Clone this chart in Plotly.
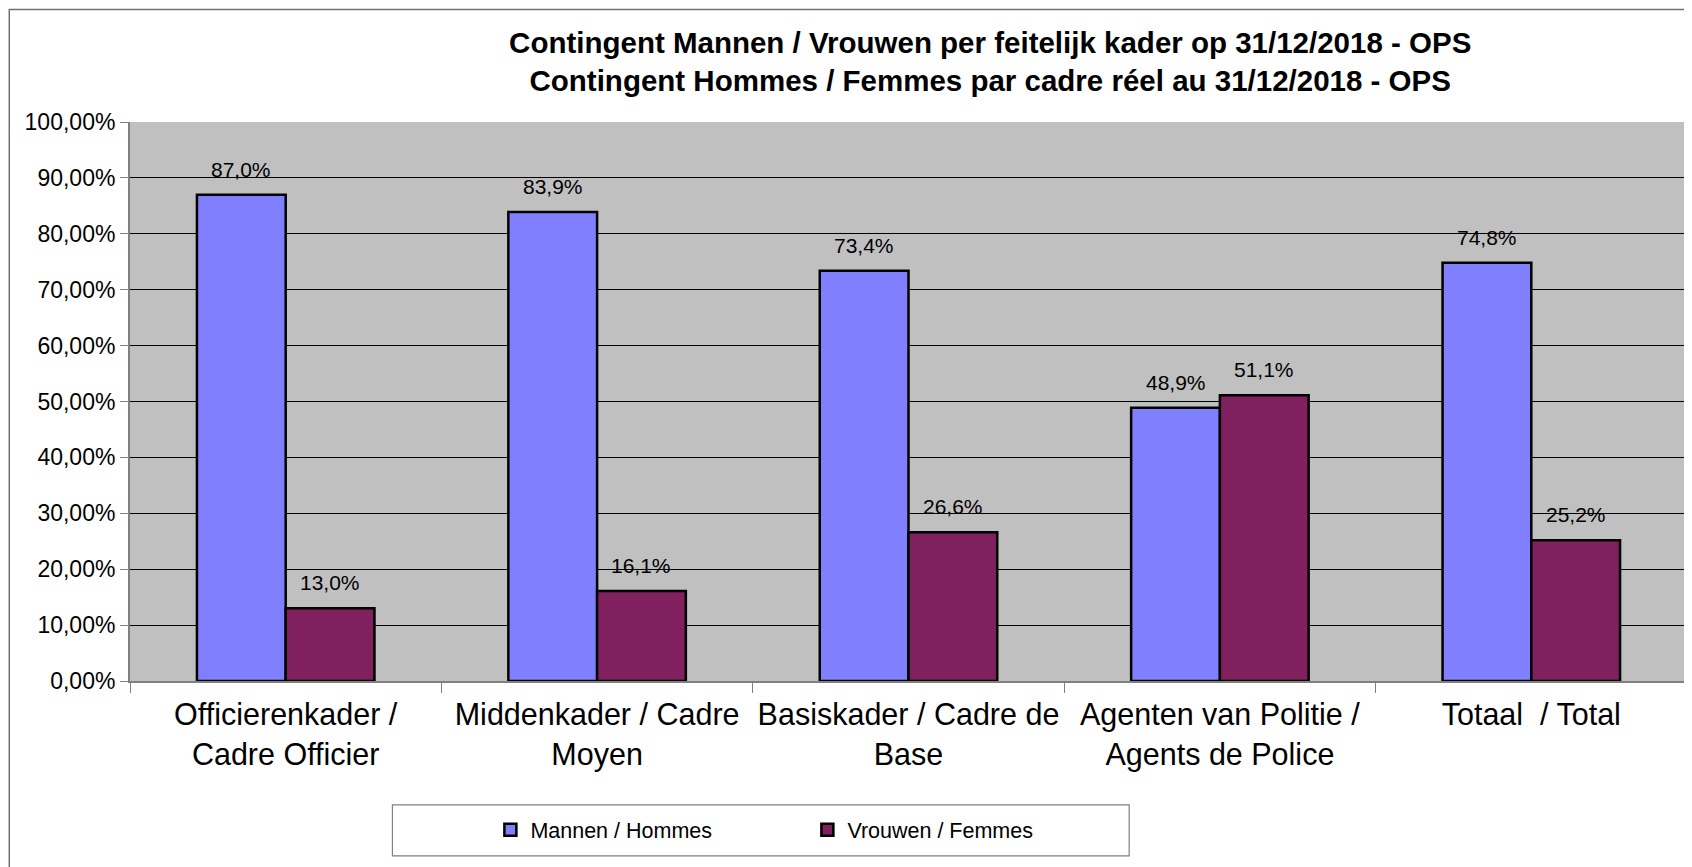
import plotly.graph_objects as go

categories = [
    "Officierenkader /<br>Cadre Officier",
    "Middenkader / Cadre<br>Moyen",
    "Basiskader / Cadre de<br>Base",
    "Agenten van Politie /<br>Agents de Police",
    "Totaal\u00a0 / Total",
]
men = [0.870, 0.839, 0.734, 0.489, 0.748]
women = [0.130, 0.161, 0.266, 0.511, 0.252]
series_names = ["Mannen / Hommes", "Vrouwen / Femmes"]
y_ticks = [0, 0.1, 0.2, 0.3, 0.4, 0.5, 0.6, 0.7, 0.8, 0.9, 1.0]

FONT = "Arial, 'Liberation Sans', sans-serif"
W, H = 1684, 859
L, R, T, B = 121.5, 5, 113.5, 186
pw = W - L - R
ph = H - T - B

fig = go.Figure()
for name, vals, col in [(series_names[0], men, "#8080FF"), (series_names[1], women, "#80205F")]:
    fig.add_trace(go.Bar(
        x=categories, y=vals, name=name,
        marker=dict(color=col, line=dict(color="black", width=2.5)),
    ))

bargap = 0.43
unit = pw / len(categories)
off = (1 - bargap) / 4 * unit
annotations = []
for vals, sh in [(men, -off), (women, off)]:
    for c, v in zip(categories, vals):
        annotations.append(dict(
            x=c, y=v, xref="x", yref="y", text=f"{v*100:.1f}%".replace(".", ","),
            showarrow=False, xshift=sh, yshift=12, yanchor="bottom",
            font=dict(family=FONT, size=21, color="black"),
        ))

def px_to_paper_x(px):
    return (px - L) / pw

def px_to_paper_y(py):
    return (H - B - py) / ph

shapes = [
    # outer chart border
    dict(type="rect", xref="paper", yref="paper",
         x0=px_to_paper_x(0.75), x1=px_to_paper_x(W + 20),
         y0=px_to_paper_y(H + 20), y1=px_to_paper_y(1),
         line=dict(color="#707070", width=1.5), fillcolor="rgba(0,0,0,0)", layer="below"),
    # legend box
    dict(type="rect", xref="paper", yref="paper",
         x0=px_to_paper_x(384), x1=px_to_paper_x(1121),
         y0=px_to_paper_y(848), y1=px_to_paper_y(797),
         line=dict(color="#808080", width=1.2), fillcolor="white"),
]

fig.update_layout(
    width=W, height=H,
    margin=dict(l=L, r=R, t=T, b=B, autoexpand=False),
    paper_bgcolor="white", plot_bgcolor="#C0C0C0",
    separators=",.",
    barmode="group", bargap=bargap, bargroupgap=0,
    font=dict(family=FONT, color="black"),
    title=dict(
        text="<b>Contingent Mannen / Vrouwen per feitelijk kader op 31/12/2018 - OPS<br>"
             "Contingent Hommes / Femmes par cadre réel au 31/12/2018 - OPS</b>",
        x=px_to_paper_x(982), xref="paper", xanchor="center",
        y=1 - 45 / H, yref="container", yanchor="middle",
        font=dict(family=FONT, size=29.5, color="black"),
    ),
    xaxis=dict(
        type="category", showgrid=False, ticks="outside", tickson="boundaries",
        ticklen=10, tickcolor="#808080", tickwidth=1.2,
        showline=True, linecolor="#808080", linewidth=1.5,
        tickfont=dict(family=FONT, size=30.5, color="black"),
        ticklabelstandoff=6,
    ),
    yaxis=dict(
        range=[0, 1], tickvals=y_ticks, tickformat=".2%",
        showgrid=True, gridcolor="black", gridwidth=1,
        ticks="outside", ticklen=8, tickcolor="#808080", tickwidth=1.2,
        showline=True, linecolor="#808080", linewidth=2, mirror=True,
        tickfont=dict(family=FONT, size=23, color="black"),
        zeroline=False,
    ),
    legend=dict(
        orientation="h", x=px_to_paper_x(482), xanchor="left",
        y=px_to_paper_y(822), yanchor="middle",
        bgcolor="rgba(0,0,0,0)", borderwidth=0,
        entrywidth=272, entrywidthmode="pixels",
        font=dict(family=FONT, size=21.5, color="black"),
        itemwidth=30, tracegroupgap=0,
    ),
    annotations=annotations,
    shapes=shapes,
)

fig.write_html("out.html")
